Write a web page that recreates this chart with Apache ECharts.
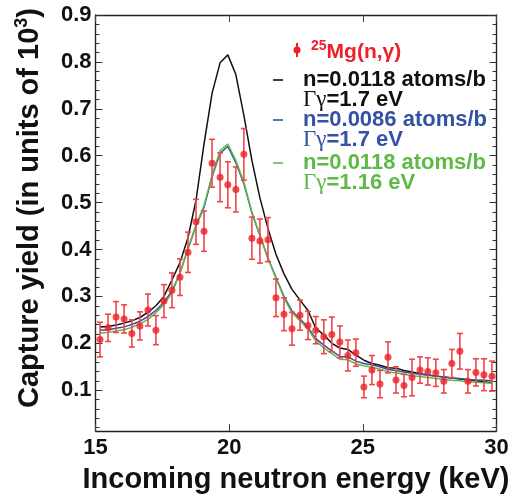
<!DOCTYPE html>
<html>
<head>
<meta charset="utf-8">
<script src="https://cdn.jsdelivr.net/npm/echarts@6/dist/echarts.min.js"></script>
<style>
  html, body { margin: 0; padding: 0; background: #fff; }
  #chart { width: 518px; height: 499px; }
</style>
</head>
<body>
<div id="chart"></div>
<script>
// energies of the measured points and of the model curves (keV)
var energy = [15.17, 15.47, 15.77, 16.07, 16.36, 16.66, 16.96, 17.26, 17.56, 17.86,
  18.16, 18.46, 18.76, 19.06, 19.36, 19.66, 19.95, 20.25, 20.55, 20.85,
  21.15, 21.45, 21.75, 22.05, 22.35, 22.65, 22.95, 23.24, 23.54, 23.84,
  24.14, 24.44, 24.74, 25.04, 25.34, 25.64, 25.94, 26.24, 26.54, 26.84,
  27.14, 27.43, 27.73, 28.03, 28.33, 28.63, 28.93, 29.23, 29.53, 29.83];

// 25Mg(n,g) capture yield (units of 10^3) and its error
var yieldData = [0.208, 0.233, 0.256, 0.252, 0.221, 0.237, 0.271, 0.228, 0.290, 0.313,
  0.341, 0.394, 0.459, 0.439, 0.584, 0.554, 0.538, 0.528, 0.603, 0.424,
  0.418, 0.421, 0.297, 0.262, 0.231, 0.260, 0.238, 0.228, 0.214, 0.219,
  0.203, 0.174, 0.180, 0.107, 0.143, 0.113, 0.170, 0.122, 0.110, 0.127,
  0.143, 0.140, 0.137, 0.119, 0.157, 0.183, 0.119, 0.138, 0.133, 0.130];
var yieldErr = [0.037, 0.029, 0.033, 0.030, 0.029, 0.030, 0.034, 0.031, 0.035, 0.037,
  0.039, 0.043, 0.048, 0.043, 0.051, 0.052, 0.049, 0.048, 0.055, 0.045,
  0.047, 0.047, 0.040, 0.035, 0.035, 0.032, 0.030, 0.029, 0.036, 0.037,
  0.034, 0.033, 0.029, 0.023, 0.031, 0.029, 0.033, 0.028, 0.024, 0.039,
  0.028, 0.029, 0.029, 0.025, 0.030, 0.038, 0.025, 0.029, 0.034, 0.032];

// fits
var fitBlack = [0.235, 0.236, 0.239, 0.243, 0.248, 0.255, 0.266, 0.280, 0.300, 0.335,
  0.372, 0.425, 0.505, 0.625, 0.733, 0.798, 0.815, 0.773, 0.686, 0.590,
  0.510, 0.445, 0.390, 0.348, 0.315, 0.292, 0.270, 0.232, 0.218, 0.200,
  0.190, 0.187, 0.175, 0.164, 0.157, 0.153, 0.148, 0.147, 0.142, 0.139,
  0.135, 0.133, 0.130, 0.128, 0.126, 0.124, 0.122, 0.120, 0.118, 0.116];
var fitBlue = [0.228, 0.229, 0.232, 0.235, 0.240, 0.247, 0.257, 0.270, 0.288, 0.311,
  0.350, 0.401, 0.450, 0.490, 0.555, 0.605, 0.620, 0.585, 0.540, 0.478,
  0.430, 0.382, 0.341, 0.300, 0.269, 0.252, 0.234, 0.210, 0.196, 0.184,
  0.172, 0.171, 0.162, 0.157, 0.154, 0.150, 0.144, 0.142, 0.139, 0.136,
  0.134, 0.132, 0.130, 0.128, 0.126, 0.125, 0.123, 0.122, 0.121, 0.120];
var fitGreen = [0.222, 0.223, 0.226, 0.229, 0.234, 0.241, 0.251, 0.265, 0.283, 0.307,
  0.350, 0.403, 0.452, 0.494, 0.558, 0.611, 0.625, 0.590, 0.544, 0.480,
  0.431, 0.381, 0.339, 0.297, 0.265, 0.248, 0.230, 0.205, 0.190, 0.178,
  0.166, 0.165, 0.156, 0.152, 0.149, 0.145, 0.139, 0.137, 0.134, 0.131,
  0.129, 0.127, 0.125, 0.123, 0.121, 0.120, 0.118, 0.117, 0.116, 0.115];

// axis ticks
var xTicks = [15, 20, 25, 30];
var yTicks = [0.1, 0.2, 0.3, 0.4, 0.5, 0.6, 0.7, 0.8, 0.9];
var yMinorTicks = [0.02, 0.04, 0.06, 0.08, 0.12, 0.14, 0.16, 0.18, 0.22, 0.24, 0.26, 0.28,
  0.32, 0.34, 0.36, 0.38, 0.42, 0.44, 0.46, 0.48, 0.52, 0.54, 0.56, 0.58,
  0.62, 0.64, 0.66, 0.68, 0.72, 0.74, 0.76, 0.78, 0.82, 0.84, 0.86, 0.88];

var RED = "#ee1f26";
var BLUE = "#3451a5";
var GREEN = "#5fb946";
var SANS = "Liberation Sans";
var SERIF = "Liberation Serif";

function pairs(ys) {
  return energy.map(function (x, i) { return [x, ys[i]]; });
}

function renderErrorBar(params, api) {
  var x = api.value(0), y = api.value(1), e = api.value(2);
  var top = api.coord([x, y + e]);
  var bot = api.coord([x, y - e]);
  var hw = 3;
  var st = { stroke: "#f0454b", lineWidth: 1.6 };
  return {
    type: "group",
    children: [
      { type: "line", shape: { x1: top[0], y1: top[1], x2: bot[0], y2: bot[1] }, style: st },
      { type: "line", shape: { x1: top[0] - hw, y1: top[1], x2: top[0] + hw, y2: top[1] }, style: st },
      { type: "line", shape: { x1: bot[0] - hw, y1: bot[1], x2: bot[0] + hw, y2: bot[1] }, style: st }
    ]
  };
}

// legend drawn by hand (two-line entries)
function legendEntry(color, y, line1, line2) {
  return [
    { type: "line", shape: { x1: 273, y1: y, x2: 283, y2: y }, style: { stroke: color, lineWidth: 1.6 } },
    { type: "text", x: 303, y: y, style: { text: line1, fill: color, font: "bold 22px " + SANS, verticalAlign: "middle" } },
    {
      type: "text", x: 303, y: y + 20,
      style: {
        text: "{g|Γγ}{t|" + line2 + "}",
        verticalAlign: "middle",
        rich: {
          g: { fill: color, font: "23px " + SERIF },
          t: { fill: color, font: "bold 22px " + SANS }
        }
      }
    }
  ];
}

var legendGraphics = [
  { type: "line", shape: { x1: 297, y1: 43, x2: 297, y2: 57 }, style: { stroke: RED, lineWidth: 2 } },
  { type: "circle", shape: { cx: 297, cy: 50, r: 3.5 }, style: { fill: RED } },
  {
    type: "text", x: 311, y: 52,
    style: {
      text: "{s|25}{m|Mg(n,γ)}",
      verticalAlign: "middle",
      rich: {
        s: { fill: RED, font: "bold 14px " + SANS, verticalAlign: "bottom", padding: [0, 0, 12, 0] },
        m: { fill: RED, font: "bold 21px " + SANS }
      }
    }
  }
].concat(
  legendEntry("#111", 80, "n=0.0118 atoms/b", "=1.7 eV"),
  legendEntry(BLUE, 120, "n=0.0086 atoms/b", "=1.7 eV"),
  legendEntry(GREEN, 163, "n=0.0118 atoms/b", "=1.16 eV")
);

// y axis title
legendGraphics.push({
  type: "text", x: 30, y: 208, rotation: Math.PI / 2,
  style: {
    text: "{m|Capture yield (in units of 10}{s|3}{m|)}",
    align: "center",
    verticalAlign: "middle",
    rich: {
      m: { fill: "#111", font: "bold 29px " + SANS },
      s: { fill: "#111", font: "bold 18px " + SANS, verticalAlign: "bottom", padding: [0, 0, 16, 0] }
    }
  }
});

var chart = echarts.init(document.getElementById("chart"));

var frameLine = { show: true, lineStyle: { color: "#222", width: 1.4 } };
var yMin = 0.013, yMax = 0.9;

chart.setOption({
  animation: false,
  backgroundColor: "#fff",
  grid: { left: 95.5, right: 21.5, top: 15, bottom: 65 },
  xAxis: [
    {
      type: "value", min: 15, max: 30, interval: 5,
      axisLine: frameLine,
      axisTick: { show: true, inside: true, length: 7, lineStyle: { color: "#444" } },
      axisLabel: {
        color: "#111", fontSize: 22, fontWeight: "bold", fontFamily: SANS, margin: 6,
        formatter: function (v) { return xTicks.indexOf(v) >= 0 ? String(v) : ""; }
      },
      splitLine: { show: false },
      name: "Incoming neutron energy (keV)",
      nameLocation: "middle",
      nameGap: 34,
      nameTextStyle: { color: "#111", fontSize: 29, fontWeight: "bold", fontFamily: SANS }
    },
    {
      type: "value", min: 15, max: 30, interval: 5, position: "top",
      axisLine: frameLine,
      axisTick: { show: true, inside: true, length: 7, lineStyle: { color: "#444" } },
      axisLabel: { show: false },
      splitLine: { show: false }
    }
  ],
  yAxis: [
    {
      type: "value", min: yMin, max: yMax, position: "left",
      axisLine: frameLine,
      axisTick: { show: true, inside: true, length: 7, customValues: yTicks, lineStyle: { color: "#333" } },
      axisLabel: {
        customValues: yTicks, color: "#111", fontSize: 22, fontWeight: "bold", fontFamily: SANS, margin: 4,
        formatter: function (v) { return v.toFixed(1); }
      },
      splitLine: { show: false }
    },
    {
      type: "value", min: yMin, max: yMax, position: "left",
      axisLine: { show: false },
      axisTick: { show: true, inside: true, length: 4, customValues: yMinorTicks, lineStyle: { color: "#333" } },
      axisLabel: { show: false },
      splitLine: { show: false }
    },
    {
      type: "value", min: yMin, max: yMax, position: "right",
      axisLine: frameLine,
      axisTick: { show: true, inside: true, length: 7, customValues: yTicks, lineStyle: { color: "#333" } },
      axisLabel: { show: false },
      splitLine: { show: false }
    },
    {
      type: "value", min: yMin, max: yMax, position: "right",
      axisLine: { show: false },
      axisTick: { show: true, inside: true, length: 4, customValues: yMinorTicks, lineStyle: { color: "#333" } },
      axisLabel: { show: false },
      splitLine: { show: false }
    }
  ],
  graphic: legendGraphics,
  series: [
    {
      name: "n=0.0118 atoms/b, Γγ=1.7 eV", type: "line", data: pairs(fitBlack),
      showSymbol: false, lineStyle: { color: "#111", width: 1.5 }, z: 2
    },
    {
      name: "n=0.0086 atoms/b, Γγ=1.7 eV", type: "line", data: pairs(fitBlue),
      showSymbol: false, lineStyle: { color: BLUE, width: 1.5 }, z: 2
    },
    {
      name: "n=0.0118 atoms/b, Γγ=1.16 eV", type: "line", data: pairs(fitGreen),
      showSymbol: false, lineStyle: { color: GREEN, width: 1.5 }, z: 2
    },
    {
      name: "errors", type: "custom", renderItem: renderErrorBar,
      encode: { x: 0, y: 1 },
      data: energy.map(function (x, i) { return [x, yieldData[i], yieldErr[i]]; }),
      z: 3
    },
    {
      name: "25Mg(n,γ)", type: "scatter", data: pairs(yieldData),
      symbol: "circle", symbolSize: 7, itemStyle: { color: RED }, z: 4
    }
  ]
});
</script>
</body>
</html>
